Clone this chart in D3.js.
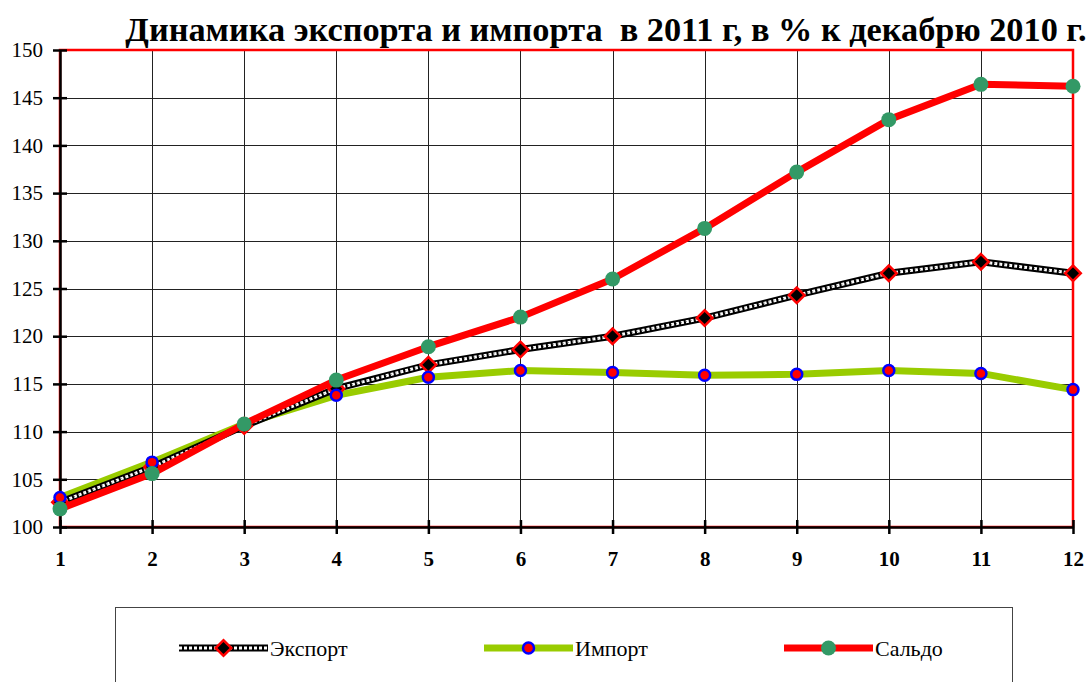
<!DOCTYPE html>
<html><head><meta charset="utf-8">
<script src="https://cdn.jsdelivr.net/npm/d3@7"></script>
<style>body{margin:0;background:#fff;} svg{display:block;} text{font-family:"Liberation Serif","Times New Roman",Times,serif;white-space:pre;}</style>
</head><body>
<script>
const months = [1,2,3,4,5,6,7,8,9,10,11,12];
const exportVals = [102.6,106.3,110.6,114.5,117.0,118.6,120.0,121.9,124.3,126.6,127.8,126.6];
const importVals = [103.1,106.8,110.8,113.8,115.7,116.4,116.2,115.9,116.0,116.4,116.1,114.4];
const saldoVals  = [101.9,105.6,110.8,115.4,118.9,122.0,126.0,131.3,137.2,142.7,146.4,146.2];
const yTicks = [100,105,110,115,120,125,130,135,140,145,150];
const seriesNames = ["Экспорт","Импорт","Сальдо"];
const title = "Динамика экспорта и импорта  в 2011 г, в % к декабрю 2010 г.";

const W=1091,H=682;
const svg=d3.select("body").append("svg").attr("width",W).attr("height",H);
const x=d3.scaleLinear().domain([1,12]).range([60,1073]);
const y=d3.scaleLinear().domain([100,150]).range([527,50]);

svg.append("text").attr("x",606).attr("y",41).attr("text-anchor","middle")
  .attr("font-weight","bold").attr("font-size",34.3).text(title);

// grid
const g=svg.append("g");
g.selectAll(".hg").data(yTicks.slice(1,-1)).enter().append("line")
  .attr("x1",60).attr("x2",1073).attr("y1",d=>Math.round(y(d))+0.5).attr("y2",d=>Math.round(y(d))+0.5)
  .attr("stroke","#222").attr("stroke-width",1);
g.selectAll(".vg").data(months.slice(1,-1)).enter().append("line")
  .attr("y1",50).attr("y2",527).attr("x1",d=>Math.round(x(d))+0.5).attr("x2",d=>Math.round(x(d))+0.5)
  .attr("stroke","#222").attr("stroke-width",1);

// plot border red
svg.append("rect").attr("x",60).attr("y",50).attr("width",1013).attr("height",477)
  .attr("fill","none").attr("stroke","#ff0000").attr("stroke-width",2.5);

// axes
const yAxis=d3.axisLeft(y).tickValues(yTicks).tickSizeInner(7).tickSizeOuter(0).tickPadding(10);
const ya=svg.append("g").attr("transform","translate(60,0)").call(yAxis);
ya.attr("font-family",null);
ya.select(".domain").attr("stroke","#000").attr("stroke-width",2.5);
ya.selectAll(".tick line").attr("stroke","#000").attr("stroke-width",2.5).attr("x2",7).attr("x1",-7);
ya.selectAll(".tick text").attr("font-size",21).attr("fill","#000").attr("x",-17);

const xAxis=d3.axisBottom(x).tickValues(months).tickSizeInner(7).tickSizeOuter(0).tickPadding(17).tickFormat(d3.format("d"));
const xa=svg.append("g").attr("transform","translate(0,527)").call(xAxis);
xa.attr("font-family",null);
xa.select(".domain").attr("stroke","#000").attr("stroke-width",2.5);
xa.selectAll(".tick line").attr("stroke","#000").attr("stroke-width",2.5).attr("y1",-7).attr("y2",7);
xa.selectAll(".tick text").attr("font-size",21).attr("font-weight","bold").attr("fill","#000");

const line=d3.line().x((d,i)=>x(months[i])).y(d=>y(d));

// Import line
svg.append("path").datum(importVals).attr("d",line).attr("fill","none")
  .attr("stroke","#99cc00").attr("stroke-width",7).attr("stroke-linejoin","round");
// Export line (checkered)
svg.append("path").datum(exportVals).attr("d",line).attr("fill","none")
  .attr("stroke","#000").attr("stroke-width",7);
svg.append("path").datum(exportVals).attr("d",line).attr("fill","none")
  .attr("stroke","#fff").attr("stroke-width",3).attr("stroke-dasharray","3,2");
svg.append("path").datum(exportVals).attr("d",line).attr("fill","none")
  .attr("stroke","#777").attr("stroke-width",1).attr("stroke-dasharray","1,4");
// Saldo line
svg.append("path").datum(saldoVals).attr("d",line).attr("fill","none")
  .attr("stroke","#ff0000").attr("stroke-width",7).attr("stroke-linejoin","round");

function drawDiamond(sel){ sel.append("rect").attr("x",-5.5).attr("y",-5.5).attr("width",11).attr("height",11)
  .attr("transform","rotate(45)").attr("fill","#000").attr("stroke","#ff0000").attr("stroke-width",2.5); }

// markers
svg.selectAll(".em").data(exportVals).enter().append("g")
  .attr("transform",(d,i)=>`translate(${x(months[i])},${y(d)})`).call(drawDiamond);
svg.selectAll(".im").data(importVals).enter().append("circle")
  .attr("cx",(d,i)=>x(months[i])).attr("cy",d=>y(d)).attr("r",5.5)
  .attr("fill","#ff0000").attr("stroke","#0000ff").attr("stroke-width",2.5);
svg.selectAll(".sm").data(saldoVals).enter().append("circle")
  .attr("cx",(d,i)=>x(months[i])).attr("cy",d=>y(d)).attr("r",7.5)
  .attr("fill","#339966");

// legend
svg.append("rect").attr("x",115.5).attr("y",607.5).attr("width",897).attr("height",90)
  .attr("fill","none").attr("stroke","#444").attr("stroke-width",1);
const lx=[179,484,784], ly=648;
seriesNames.forEach((name,k)=>{
  const gg=svg.append("g");
  const x0=lx[k], x1=x0+89, xm=(x0+x1)/2;
  if(k===0){
    gg.append("line").attr("x1",x0).attr("x2",x1).attr("y1",ly).attr("y2",ly).attr("stroke","#000").attr("stroke-width",7);
    gg.append("line").attr("x1",x0).attr("x2",x1).attr("y1",ly).attr("y2",ly).attr("stroke","#fff").attr("stroke-width",3).attr("stroke-dasharray","3,2");
    gg.append("g").attr("transform",`translate(${xm},${ly})`).call(drawDiamond);
  } else if(k===1){
    gg.append("line").attr("x1",x0).attr("x2",x1).attr("y1",ly).attr("y2",ly).attr("stroke","#99cc00").attr("stroke-width",7);
    gg.append("circle").attr("cx",xm).attr("cy",ly).attr("r",5.5).attr("fill","#ff0000").attr("stroke","#0000ff").attr("stroke-width",2.5);
  } else {
    gg.append("line").attr("x1",x0).attr("x2",x1).attr("y1",ly).attr("y2",ly).attr("stroke","#ff0000").attr("stroke-width",7);
    gg.append("circle").attr("cx",xm).attr("cy",ly).attr("r",7.5).attr("fill","#339966");
  }
  gg.append("text").attr("x",x1+2).attr("y",ly+8).attr("font-size",22).attr("fill","#000").text(name);
});
</script>
</body></html>
